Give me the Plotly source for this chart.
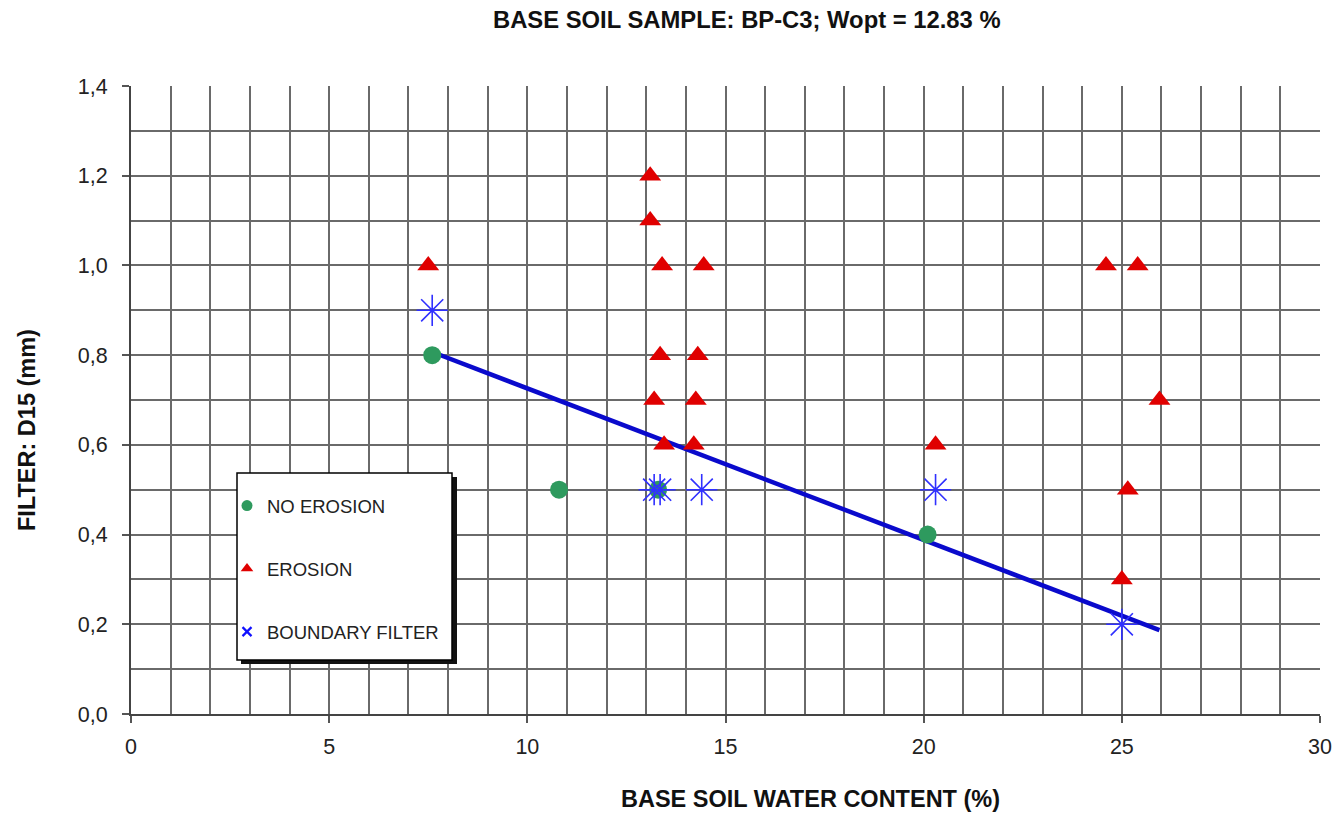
import plotly.graph_objects as go

# Data
no_erosion_x = [7.6, 10.8, 13.3, 20.1]
no_erosion_y = [0.8, 0.5, 0.5, 0.4]

erosion_x = [7.5, 13.1, 13.1, 13.4, 14.45, 13.35, 14.3, 13.2, 14.25, 13.45, 14.2, 20.3, 24.6, 25.4, 25.95, 25.15, 25.0]
erosion_y = [1.0, 1.2, 1.1, 1.0, 1.0, 0.8, 0.8, 0.7, 0.7, 0.6, 0.6, 0.6, 1.0, 1.0, 0.7, 0.5, 0.3]

boundary_x = [7.6, 13.2, 13.35, 14.4, 20.3, 25.0]
boundary_y = [0.9, 0.5, 0.5, 0.5, 0.5, 0.2]

trend_x = [7.6, 25.95]
trend_y = [0.807, 0.187]

FONT = "Arial, Liberation Sans, sans-serif"
GREEN = "#2e9a5e"
RED = "#e00000"
BLUE = "#3030ff"

fig = go.Figure()

fig.add_trace(go.Scatter(x=trend_x, y=trend_y, mode="lines",
                         line=dict(color="#0a0acc", width=4.5), showlegend=False))
fig.add_trace(go.Scatter(x=no_erosion_x, y=no_erosion_y, mode="markers",
                         marker=dict(symbol="circle", size=18, color=GREEN), showlegend=False))
fig.add_trace(go.Scatter(x=erosion_x, y=erosion_y, mode="markers",
                         marker=dict(symbol="triangle-up", size=19, color=RED), showlegend=False))
fig.add_trace(go.Scatter(x=boundary_x, y=boundary_y, mode="markers",
                         marker=dict(symbol="asterisk-open", size=26, color=BLUE,
                                     line=dict(color=BLUE, width=1.6)), showlegend=False))

# legend entries
fig.add_trace(go.Scatter(x=[None], y=[None], mode="markers", name="NO EROSION", legendgroup="a",
                         marker=dict(symbol="circle", size=11, color=GREEN)))
fig.add_trace(go.Scatter(x=[None], y=[None], mode="markers", name="EROSION", legendgroup="b",
                         marker=dict(symbol="triangle-up", size=11, color=RED)))
fig.add_trace(go.Scatter(x=[None], y=[None], mode="markers", name="BOUNDARY FILTER", legendgroup="c",
                         marker=dict(symbol="x-thin-open", size=9, color="#1010ff",
                                     line=dict(color="#1010ff", width=2.2))))

L, T, PW, PH = 131, 86, 1189, 628
def px2x(px): return (px - L) / PW
def py2y(py): return (T + PH - py) / PH

shapes = [
    dict(type="rect", xref="paper", yref="paper", layer="above",
         x0=px2x(241), x1=px2x(457), y0=py2y(664), y1=py2y(477),
         fillcolor="#111111", line=dict(width=0)),
    dict(type="rect", xref="paper", yref="paper", layer="above",
         x0=px2x(237), x1=px2x(452), y0=py2y(660), y1=py2y(473),
         fillcolor="white", line=dict(color="black", width=1.5)),
]

axis_common = dict(
    showgrid=True, gridcolor="#6a6a6a", gridwidth=2,
    showline=True, linecolor="#444444", linewidth=2,
    ticks="outside", ticklen=7, tickwidth=2, tickcolor="#555555",
    zeroline=False, tickfont=dict(family=FONT, size=21.5, color="#222222"),
)

fig.update_layout(
    width=1335, height=813,
    margin=dict(l=131, r=15, t=86, b=99, autoexpand=False),
    paper_bgcolor="white", plot_bgcolor="white",
    separators=",.",
    showlegend=True,
    legend=dict(x=px2x(227), y=py2y(487),
                xanchor="left", yanchor="top", bgcolor="rgba(0,0,0,0)",
                borderwidth=0, tracegroupgap=36, itemwidth=30,
                font=dict(family=FONT, size=18.5, color="#222222")),
    xaxis=dict(range=[0, 30], dtick=5, tick0=0,
               minor=dict(dtick=1, showgrid=True, gridcolor="#6a6a6a", gridwidth=2, ticks=""),
               ticklabelstandoff=5, **axis_common),
    yaxis=dict(range=[0, 1.4], dtick=0.2, tick0=0, tickformat=".1f",
               minor=dict(dtick=0.1, showgrid=True, gridcolor="#6a6a6a", gridwidth=2, ticks=""),
               ticklabelstandoff=10, **axis_common),
    shapes=shapes,
    annotations=[
        dict(text="<b>BASE SOIL SAMPLE: BP-C3; Wopt = 12.83 %</b>", xref="paper", yref="paper",
             x=px2x(747), y=py2y(19), xanchor="center", yanchor="middle",
             showarrow=False, font=dict(family=FONT, size=23.8, color="#111111")),
        dict(text="<b>BASE SOIL WATER CONTENT (%)</b>", xref="paper", yref="paper",
             x=px2x(810), y=py2y(799), xanchor="center", yanchor="middle",
             showarrow=False, font=dict(family=FONT, size=23.5, color="#111111")),
        dict(text="<b>FILTER: D15 (mm)</b>", xref="paper", yref="paper", textangle=-90,
             x=px2x(27), y=py2y(430), xanchor="center", yanchor="middle",
             showarrow=False, font=dict(family=FONT, size=23.5, color="#111111")),
    ],
)

fig.write_html("out.html", config={"displayModeBar": False},
               post_script="document.body.style.margin='0';document.body.style.overflow='hidden';")
